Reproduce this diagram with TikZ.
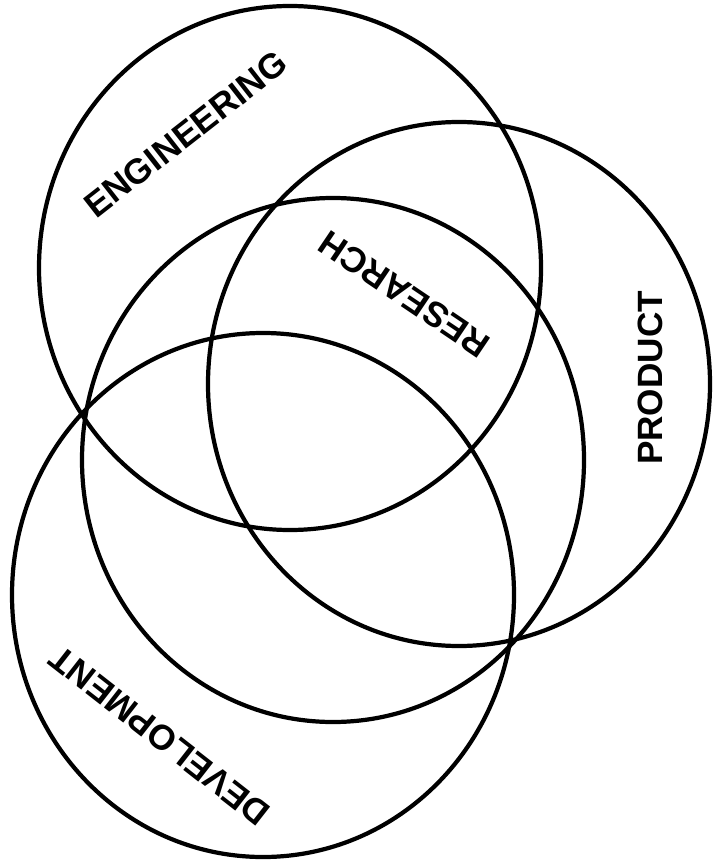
\documentclass[tikz,border=0pt]{standalone}
\usepackage{fontspec}
\setsansfont{Liberation Sans}
\usetikzlibrary{shapes.geometric}

\begin{document}
\begin{tikzpicture}[x=0.3mm, y=-0.3mm,
  ring/.style={ellipse, draw=black, line width=3.6pt, minimum width=150.6mm, minimum height=157.2mm, inner sep=0pt},
  tag/.style={font=\sffamily\bfseries\fontsize{30}{36}\selectfont, inner sep=0pt}]
  \useasboundingbox (0,0) rectangle (714,862);

  % Rings
  \node[ring] (eng) at (290, 268) {};
  \node[ring] (prod) at (459, 384) {};
  \node[ring] (res) at (333, 460) {};
  \node[ring] (dev) at (263, 595) {};

  % Labels
  \node[tag, rotate=38] (englabel) at (186, 134) {ENGINEERING};
  \node[tag, rotate=146] (reslabel) at (404, 294) {RESEARCH};
  \node[tag, rotate=90] (prodlabel) at (650, 378) {PRODUCT};
  \node[tag, rotate=142] (devlabel) at (160, 736) {DEVELOPMENT};
\end{tikzpicture}
\end{document}
